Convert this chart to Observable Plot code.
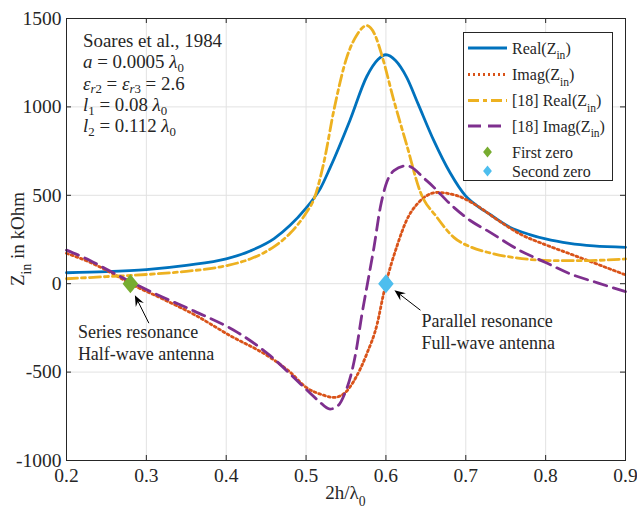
<!DOCTYPE html>
<html>
<head>
<meta charset="utf-8">
<script src="https://cdn.jsdelivr.net/npm/d3@7"></script>
<script src="https://cdn.jsdelivr.net/npm/@observablehq/plot@0.6"></script>
<style>
  body { margin: 0; background: #fff; }
  #chart { width: 637px; height: 513px; }
  text, tspan { white-space: pre; }
</style>
</head>
<body>
<div id="chart"></div>
<script>
// ---------- data ----------
const xTicks = [0.2, 0.3, 0.4, 0.5, 0.6, 0.7, 0.8, 0.9];
const xTickLabels = ["0.2", "0.3", "0.4", "0.5", "0.6", "0.7", "0.8", "0.9"];
const yTicks = [-1000, -500, 0, 500, 1000, 1500];
const yTickLabels = ["-1000", "-500", "0", "500", "1000", "1500"];

// Real(Z_in)
const realX = [0.20, 0.25, 0.30, 0.35, 0.40, 0.43, 0.46, 0.48, 0.50, 0.51, 0.518, 0.53, 0.555, 0.576, 0.59, 0.60, 0.612, 0.626, 0.64, 0.66, 0.68, 0.70, 0.715, 0.73, 0.755, 0.78, 0.80, 0.83, 0.86, 0.90];
const realY = [62, 68, 80, 104, 140, 185, 255, 330, 428, 485, 540, 655, 925, 1172, 1268, 1295, 1262, 1167, 1020, 809, 630, 495, 438, 393, 320, 278, 253, 228, 214, 206];

// Imag(Z_in)
const imagX = [0.20, 0.23, 0.255, 0.28, 0.32, 0.36, 0.405, 0.455, 0.48, 0.50, 0.52, 0.535, 0.548, 0.56, 0.576, 0.589, 0.597, 0.60, 0.614, 0.626, 0.64, 0.65, 0.664, 0.689, 0.714, 0.74, 0.768, 0.80, 0.831, 0.865, 0.90];
const imagY = [172, 120, 64, 0, -85, -175, -294, -417, -500, -586, -628, -643, -620, -549, -397, -228, -58, 0, 215, 360, 455, 495, 516, 498, 441, 360, 281, 220, 168, 110, 50];

// [18] Real(Z_in)
const refRealX = [0.20, 0.25, 0.30, 0.35, 0.40, 0.43, 0.46, 0.48, 0.50, 0.51, 0.522, 0.535, 0.551, 0.564, 0.576, 0.586, 0.595, 0.61, 0.626, 0.643, 0.664, 0.685, 0.705, 0.727, 0.76, 0.79, 0.82, 0.85, 0.875, 0.90];
const refRealY = [28, 40, 52, 70, 102, 140, 210, 285, 400, 480, 680, 985, 1280, 1410, 1460, 1410, 1290, 1035, 785, 520, 375, 262, 210, 178, 148, 134, 130, 130, 134, 140];

// [18] Imag(Z_in)
const refImagX = [0.20, 0.23, 0.255, 0.285, 0.32, 0.36, 0.414, 0.455, 0.493, 0.515, 0.53, 0.54, 0.549, 0.556, 0.562, 0.570, 0.576, 0.585, 0.593, 0.60, 0.61, 0.626, 0.651, 0.685, 0.706, 0.727, 0.768, 0.80, 0.831, 0.865, 0.90];
const refImagY = [190, 130, 70, 0, -75, -155, -275, -407, -567, -660, -709, -690, -615, -520, -397, -172, -21, 205, 432, 560, 639, 667, 583, 432, 356, 300, 187, 120, 55, 5, -45];

const seriesNames = ["Real(Z_{in})", "Imag(Z_{in})", "[18] Real(Z_{in})", "[18] Imag(Z_{in})"];
const zeroNames = ["First zero", "Second zero"];
const zeroX = [0.28, 0.60];
const zeroY = [0, 0];

const infoLines = [
  "Soares et al., 1984",
  "$a$ = 0.0005 $λ$_{0}",
  "$ε$_{$r$2} = $ε$_{$r$3} = 2.6",
  "$l$_{1} = 0.08 $λ$_{0}",
  "$l$_{2} = 0.112 $λ$_{0}"
];
const annotLines = [["Series resonance", "Half-wave antenna"], ["Parallel resonance", "Full-wave antenna"]];
const xLabel = "2h/λ_{0}";
const yLabel = "Z_{in} in kOhm";

// ---------- styles ----------
const FONT = "'Liberation Serif', 'Times New Roman', serif";
const INK = "#262626";
const seriesStyle = [
  {stroke: "#0072BD", dash: null},
  {stroke: "#D95319", dash: "2,3"},
  {stroke: "#EDB120", dash: "11,4,4,4"},
  {stroke: "#7E2F8E", dash: "13,7"}
];
const zeroColors = ["#77AC30", "#4DBEEE"];
const LW = 2.8;

const W = 637, H = 513;
const M = {left: 66, right: 12, top: 18, bottom: 53};
const plotH = H - M.top - M.bottom;
const plotW = W - M.left - M.right;
const TICK = 5;

const seriesXY = [[realX, realY], [imagX, imagY], [refRealX, refRealY], [refImagX, refImagY]];
const seriesData = seriesXY.map(([xs, ys], i) => xs.map((x, j) => ({x, y: ys[j], s: i})));
const zeros = zeroX.map((x, i) => ({x, y: zeroY[i], name: zeroNames[i]}));

const diamond = {
  draw(ctx, size) {
    const r = Math.sqrt(size / Math.PI);
    const w = r * 0.82;
    ctx.moveTo(0, -r); ctx.lineTo(w, 0); ctx.lineTo(0, r); ctx.lineTo(-w, 0); ctx.closePath();
  }
};

const plot = Plot.plot({
  width: W, height: H,
  marginLeft: M.left, marginRight: M.right, marginTop: M.top, marginBottom: M.bottom,
  style: {fontFamily: FONT, fontSize: "19.5px", color: INK, background: "#fff"},
  x: {domain: [0.2, 0.9]},
  y: {domain: [-1000, 1500]},
  marks: [
    Plot.gridX(xTicks, {stroke: "#e2e2e2", strokeOpacity: 1}),
    Plot.gridY(yTicks, {stroke: "#e2e2e2", strokeOpacity: 1}),
    ...seriesData.map((d, i) => Plot.line(d, {
      x: "x", y: "y", stroke: seriesStyle[i].stroke, strokeWidth: LW,
      strokeDasharray: seriesStyle[i].dash, curve: "monotone-x"
    })),
    Plot.dot(zeros, {x: "x", y: "y", fill: (d, i) => zeroColors[i], symbol: diamond, r: 9.5, stroke: "none"}),
    Plot.frame({stroke: INK, strokeWidth: 1}),
    // inward ticks on all four sides
    Plot.ruleX(xTicks, {x: d => d, insetTop: plotH - TICK, stroke: INK}),
    Plot.ruleX(xTicks, {x: d => d, insetBottom: plotH - TICK, stroke: INK}),
    Plot.ruleY(yTicks, {y: d => d, insetRight: plotW - TICK, stroke: INK}),
    Plot.ruleY(yTicks, {y: d => d, insetLeft: plotW - TICK, stroke: INK}),
    Plot.axisX(xTicks, {anchor: "bottom", tickSize: 0, tickPadding: 8, label: null,
      tickFormat: (d) => xTickLabels[xTicks.indexOf(d)], fill: INK}),
    Plot.axisY(yTicks, {anchor: "left", tickSize: 0, tickPadding: 5, label: null,
      tickFormat: (d) => yTickLabels[yTicks.indexOf(d)], fill: INK})
  ]
});

document.getElementById("chart").appendChild(plot);

// ---------- rich text helper ----------
function rich(sel, str, size, drop = 0.36, subScale = 0.72) {
  const subSize = size * subScale, subDy = size * drop;
  let level = 0;
  str.split(/(_\{[^}]*\})/).forEach(tok => {
    if (!tok) return;
    const sub = tok.startsWith("_{");
    const content = sub ? tok.slice(2, -1) : tok;
    content.split(/(\$[^$]*\$)/).forEach(p => {
      if (!p) return;
      const it = p.startsWith("$");
      const t = it ? p.slice(1, -1) : p;
      const ts = sel.append("tspan").text(t);
      if (it) ts.attr("font-style", "italic");
      ts.attr("font-size", sub ? subSize : size);
      const target = sub ? 1 : 0;
      if (target !== level) { ts.attr("dy", (target - level) * subDy); level = target; }
    });
  });
}

const svg = d3.select(plot);
const sx = plot.scale("x"), sy = plot.scale("y");
const g = svg.append("g").attr("font-family", FONT).attr("fill", INK).attr("text-anchor", "start");

// axis labels
const xl = g.append("text").attr("x", M.left + plotW / 2).attr("y", 499).attr("text-anchor", "middle");
rich(xl, xLabel, 19);
const yl = g.append("text").attr("transform", `translate(24,${M.top + plotH / 2}) rotate(-90)`).attr("text-anchor", "middle");
rich(yl, yLabel, 19);

// info block
infoLines.forEach((line, i) => {
  const t = g.append("text").attr("x", 83).attr("y", 47 + i * 21.3);
  rich(t, line, 18.9, 0.2, 0.68);
});

// annotations with arrows
function arrow(x1, y1, x2, y2) {
  const dx = x2 - x1, dy = y2 - y1, L = Math.hypot(dx, dy);
  const ux = dx / L, uy = dy / L, px = -uy, py = ux;
  const hl = 11, hw = 4.5, notch = 7;
  g.append("line").attr("x1", x1).attr("y1", y1)
    .attr("x2", x2 - ux * notch).attr("y2", y2 - uy * notch)
    .attr("stroke", "#000").attr("stroke-width", 1);
  const pts = [
    [x2, y2],
    [x2 - ux * hl + px * hw, y2 - uy * hl + py * hw],
    [x2 - ux * notch, y2 - uy * notch],
    [x2 - ux * hl - px * hw, y2 - uy * hl - py * hw]
  ];
  g.append("path").attr("d", "M" + pts.map(p => p.join(",")).join("L") + "Z").attr("fill", "#000");
}

const annotCfg = [
  {tx: -52, ty: 55, head: [5, 12], tail: [19, 40]},
  {tx: 36, ty: 44, head: [9, 7], tail: [35, 27]}
];
zeros.forEach((z, i) => {
  const cx = sx.apply(z.x), cy = sy.apply(z.y);
  const c = annotCfg[i];
  arrow(cx + c.tail[0], cy + c.tail[1], cx + c.head[0], cy + c.head[1]);
  annotLines[i].forEach((line, k) => {
    g.append("text").attr("x", cx + c.tx).attr("y", cy + c.ty + k * 22).attr("font-size", 18).text(line);
  });
});

// legend
const lg = g.append("g");
const LX = 463.5, LY = 32.5;
lg.append("rect").attr("x", LX).attr("y", LY).attr("width", 149).attr("height", 148)
  .attr("fill", "#fff").attr("stroke", INK).attr("stroke-width", 1);
const rowY = [48, 74.5, 100.5, 126, 152, 171];
seriesNames.forEach((name, i) => {
  const y = rowY[i];
  lg.append("line").attr("x1", 468).attr("x2", 507).attr("y1", y).attr("y2", y)
    .attr("stroke", seriesStyle[i].stroke).attr("stroke-width", LW)
    .attr("stroke-dasharray", seriesStyle[i].dash);
  const t = lg.append("text").attr("x", 512).attr("y", y + 5.5);
  rich(t, name, 16);
});
zeroNames.forEach((name, i) => {
  const y = rowY[4 + i];
  const r = 5.5, w = r * 0.8;
  lg.append("path").attr("d", `M487.5,${y - r}L${487.5 + w},${y}L487.5,${y + r}L${487.5 - w},${y}Z`)
    .attr("fill", zeroColors[i]);
  lg.append("text").attr("x", 512).attr("y", y + 5.5).attr("font-size", 16).text(name);
});
</script>
</body>
</html>
